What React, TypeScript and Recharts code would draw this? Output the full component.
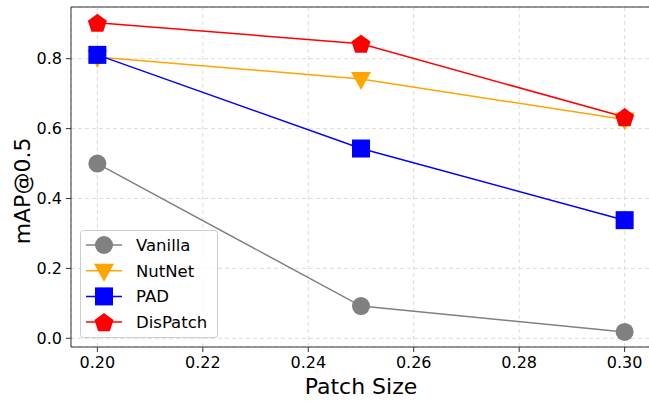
import React from "react";
import {
  LineChart,
  Line,
  XAxis,
  YAxis,
  CartesianGrid,
  ReferenceLine,
} from "recharts";

const patchSizes = [0.2, 0.25, 0.3];
const vanilla = [0.5, 0.092, 0.018];
const nutnet = [0.805, 0.742, 0.626];
const pad = [0.811, 0.543, 0.338];
const dispatch = [0.903, 0.843, 0.633];

const xTicks = [0.2, 0.22, 0.24, 0.26, 0.28, 0.3];
const yTicks = [0, 0.2, 0.4, 0.6, 0.8];

const data = patchSizes.map((p, i) => ({
  patch: p,
  vanilla: vanilla[i],
  nutnet: nutnet[i],
  pad: pad[i],
  dispatch: dispatch[i],
}));

const FONT = "'DejaVu Sans', sans-serif";

type Shape = "circle" | "triangle" | "square" | "pentagon";

function Marker({ shape, cx, cy, color }: { shape: Shape; cx: number; cy: number; color: string }) {
  if (shape === "circle") return <circle cx={cx} cy={cy} r={9} fill={color} />;
  if (shape === "square")
    return <rect x={cx - 9} y={cy - 9} width={18} height={18} fill={color} />;
  if (shape === "triangle") {
    const pts = `${cx - 10},${cy - 7} ${cx + 10},${cy - 7} ${cx},${cy + 11}`;
    return <polygon points={pts} fill={color} />;
  }
  const r = 10;
  const pts = [0, 1, 2, 3, 4]
    .map((k) => {
      const a = -Math.PI / 2 + (k * 2 * Math.PI) / 5;
      return `${cx + r * Math.cos(a)},${cy + 1 + r * Math.sin(a)}`;
    })
    .join(" ");
  return <polygon points={pts} fill={color} />;
}

const makeDot = (shape: Shape, color: string) => (props: any) => {
  const { cx, cy, index } = props;
  if (cx == null || cy == null) return <g key={index} />;
  return (
    <g key={index}>
      <Marker shape={shape} cx={cx} cy={cy} color={color} />
    </g>
  );
};

const series: { key: string; name: string; color: string; shape: Shape }[] = [
  { key: "vanilla", name: "Vanilla", color: "#808080", shape: "circle" },
  { key: "nutnet", name: "NutNet", color: "#FFA500", shape: "triangle" },
  { key: "pad", name: "PAD", color: "#0000FF", shape: "square" },
  { key: "dispatch", name: "DisPatch", color: "#FF0000", shape: "pentagon" },
];

function LegendBox() {
  return (
    <svg
      width={140}
      height={110}
      style={{ position: "absolute", left: 80, top: 230 }}
    >
      <rect x={0.5} y={0.5} width={137} height={107} rx={3} fill="rgba(255,255,255,0.8)" stroke="#ccc" />
      {series.map((s, i) => {
        const y = 15 + i * 25.7;
        return (
          <g key={s.key}>
            <line x1={6} x2={42} y1={y} y2={y} stroke={s.color} strokeWidth={1.5} />
            <Marker shape={s.shape} cx={24} cy={y} color={s.color} />
            <text x={56} y={y + 6} fontSize={16.5} fontFamily={FONT} fill="#000">
              {s.name}
            </text>
          </g>
        );
      })}
    </svg>
  );
}

const YLabel = () => (
  <text
    x={22}
    y={191}
    transform="rotate(-90, 22, 191)"
    textAnchor="middle"
    dominantBaseline="central"
    fontSize={22}
    fontFamily={FONT}
    fill="#000"
  >
    mAP@0.5
  </text>
);

export default function App() {
  return (
    <div style={{ position: "relative", width: 649, height: 401, background: "#fff", overflow: "hidden" }}>
      <style>{"body{margin:0}"}</style>
      <LineChart
        width={649}
        height={401}
        data={data}
        margin={{ top: 7, right: -2, bottom: 0, left: 0 }}
      >
        <CartesianGrid stroke="#dcdcdc" strokeDasharray="4 3" />
        <XAxis
          dataKey="patch"
          type="number"
          domain={[0.195, 0.305]}
          ticks={xTicks}
          tickFormatter={(v: number) => v.toFixed(2)}
          allowDataOverflow
          height={54}
          stroke="#333"
          tickSize={5}
          tickMargin={5}
          tick={{ fill: "#000", fontSize: 16, fontFamily: FONT }}
          label={{
            value: "Patch Size",
            position: "insideBottom",
            offset: 7,
            fill: "#000",
            fontSize: 22,
            fontFamily: FONT,
          }}
        />
        <YAxis
          type="number"
          domain={[-0.025, 0.948]}
          ticks={yTicks}
          tickFormatter={(v: number) => v.toFixed(1)}
          allowDataOverflow
          width={71}
          stroke="#333"
          tickSize={5}
          tickMargin={4}
          tick={{ fill: "#000", fontSize: 16, fontFamily: FONT }}
          label={<YLabel />}
        />
        <ReferenceLine x={0.305} stroke="#333" ifOverflow="extendDomain" />
        <ReferenceLine y={0.948} stroke="#333" ifOverflow="extendDomain" />
        {series.map((s) => (
          <Line
            key={s.key}
            dataKey={s.key}
            name={s.name}
            stroke={s.color}
            strokeWidth={1.5}
            dot={makeDot(s.shape, s.color)}
            activeDot={false}
            isAnimationActive={false}
          />
        ))}
      </LineChart>
      <LegendBox />
    </div>
  );
}
